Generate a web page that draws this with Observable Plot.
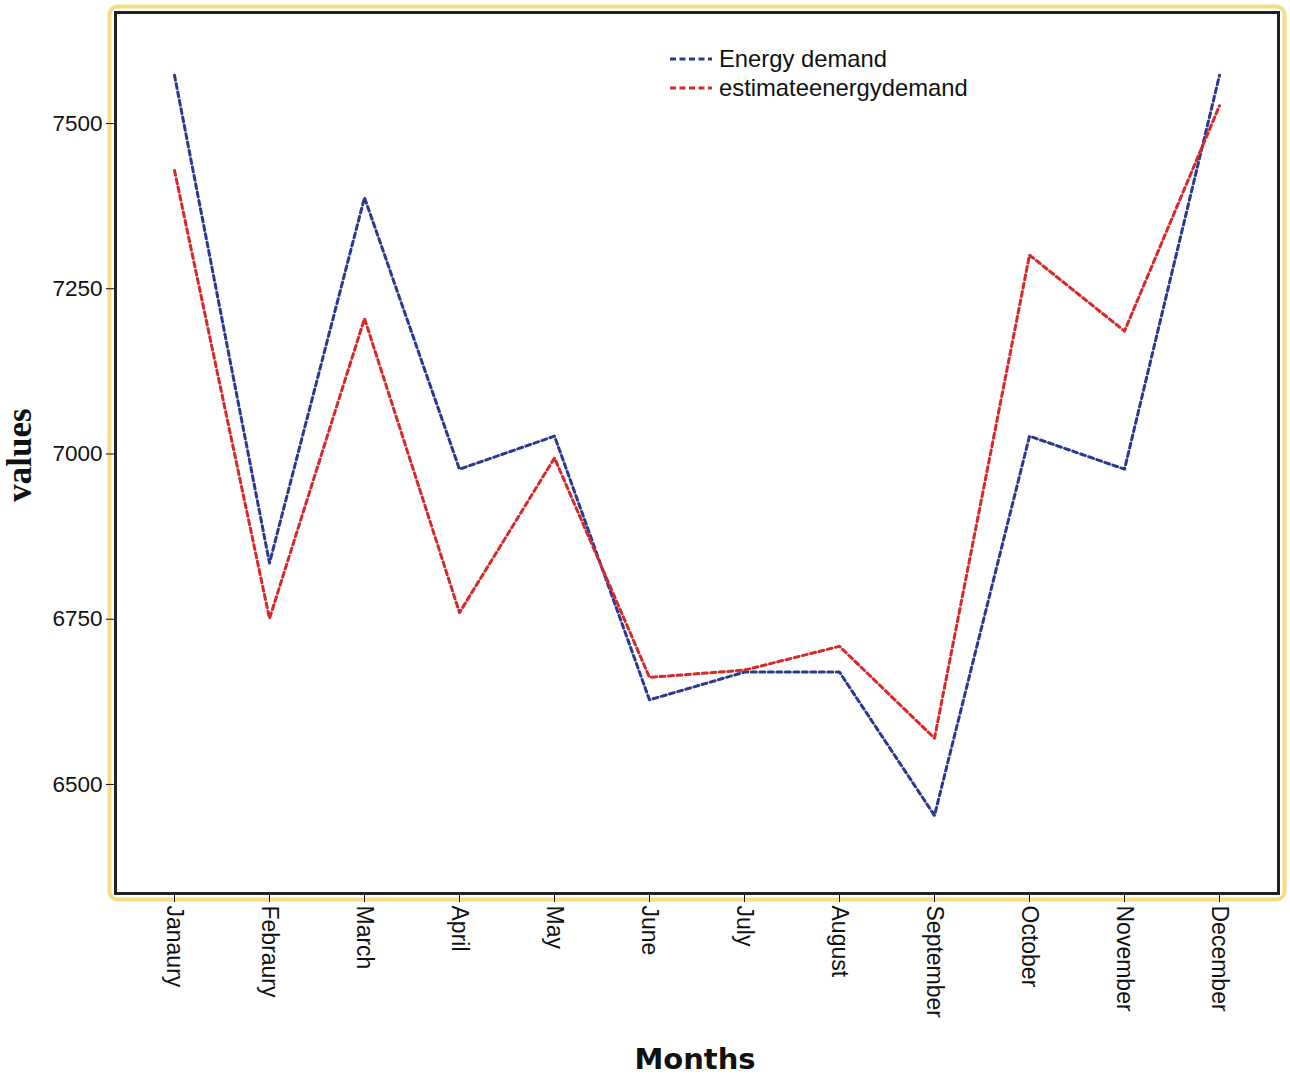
<!DOCTYPE html>
<html>
<head>
<meta charset="utf-8">
<script src="https://cdn.jsdelivr.net/npm/d3@7"></script>
<script src="https://cdn.jsdelivr.net/npm/@observablehq/plot@0.6"></script>
<style>
  html, body { margin: 0; padding: 0; background: #fff; }
  #wrap { position: relative; width: 1290px; height: 1078px; }
  #legend { position: absolute; left: 670px; top: 44px; font-family: "Liberation Sans", Arial, sans-serif; font-size: 23.8px; color: #111; line-height: 29px; }
  #legend div { display: flex; align-items: center; }
  #legend svg { margin-right: 7px; }
  #xlabel { position: absolute; left: 0; width: 1390px; top: 1042px; text-align: center; font-family: "DejaVu Sans", sans-serif; font-weight: bold; font-size: 29px; color: #111; }
  #ylabel { position: absolute; left: 20px; top: 455px; transform: translate(-50%, -50%) rotate(-90deg); font-family: "Liberation Serif", "Times New Roman", serif; font-weight: bold; font-size: 35px; line-height: 36px; color: #111; white-space: nowrap; }
</style>
</head>
<body>
<div id="wrap">
  <div id="chart"></div>
  <div id="legend"></div>
  <div id="xlabel">Months</div>
  <div id="ylabel">values</div>
</div>
<script>
const months = ["Janaury","Febraury","March","April","May","June","July","August","September","October","November","December"];
const energyDemand = [7573, 6835, 7388, 6977, 7027, 6628, 6670, 6670, 6453, 7027, 6977, 7573];
const estimateDemand = [7429, 6751, 7205, 6760, 6994, 6662, 6673, 6709, 6570, 7301, 7186, 7527];
const seriesNames = ["Energy demand", "estimateenergydemand"];
const seriesColors = ["#2b3990", "#d62a2a"];
const yTicks = [6500, 6750, 7000, 7250, 7500];

const rows = [];
months.forEach((m, i) => {
  rows.push({month: m, value: energyDemand[i], series: seriesNames[0]});
  rows.push({month: m, value: estimateDemand[i], series: seriesNames[1]});
});

const chart = Plot.plot({
  width: 1290,
  height: 1078,
  marginLeft: 115,
  marginRight: 12,
  marginTop: 12,
  marginBottom: 185,
  style: { fontFamily: "'Liberation Sans', Arial, sans-serif", fontSize: "22px", color: "#111", background: "#fff" },
  x: { type: "point", domain: months, padding: 0.62 },
  y: { domain: [6335, 7668] },
  color: { domain: seriesNames, range: seriesColors },
  marks: [
    Plot.frame({ stroke: "#f6dc84", strokeWidth: 4, inset: -6, rx: 8 }),
    Plot.frame({ stroke: "#222", strokeWidth: 3 }),
    Plot.axisY({ ticks: yTicks, tickSize: 9, tickPadding: 4, tickFormat: d => String(d), label: null, fontSize: 22.5 }),
    Plot.axisX({ tickSize: 9, tickPadding: 3, tickRotate: 90, label: null, fontSize: 23, textAnchor: "start" }),
    Plot.line(rows, { x: "month", y: "value", z: "series", stroke: "series", strokeWidth: 3, strokeDasharray: "5,3.5" })
  ]
});
document.getElementById("chart").appendChild(chart);

const legend = document.getElementById("legend");
seriesNames.forEach((name, i) => {
  const row = document.createElement("div");
  row.innerHTML = `<svg width="42" height="10"><line x1="0" y1="5" x2="42" y2="5" stroke="${seriesColors[i]}" stroke-width="3" stroke-dasharray="6,3.5"/></svg><span>${name}</span>`;
  legend.appendChild(row);
});
</script>
</body>
</html>
